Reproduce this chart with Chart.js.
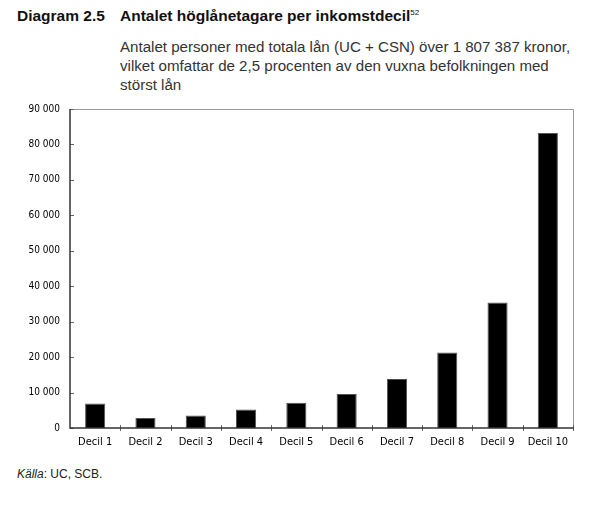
<!DOCTYPE html>
<html>
<head>
<meta charset="utf-8">
<script src="https://cdn.jsdelivr.net/npm/chart.js@4"></script>
<style>
  body { margin: 0; background: #fff; font-family: 'Liberation Sans', Arial, sans-serif; }
  #page { position: relative; width: 605px; height: 510px; }
  .title { position: absolute; left: 17px; top: 7px; font-weight: bold; font-size: 15.5px; color: #111; }
  .title span { position: absolute; left: 103px; white-space: nowrap; }
  .title sup { font-size: 8px; font-weight: normal; }
  .sub { position: absolute; left: 120px; top: 37px; width: 480px; font-size: 15.1px; line-height: 19px; color: #333; }
  .src { position: absolute; left: 17px; top: 467px; font-size: 12px; color: #222; }
  #wrap { position: absolute; left: 0; top: 93px; width: 605px; height: 357px; }
</style>
</head>
<body>
<div id="page">
  <div class="title">Diagram 2.5<span>Antalet höglånetagare per inkomstdecil<sup>52</sup></span></div>
  <div class="sub">Antalet personer med totala lån (UC + CSN) över 1 807 387 kronor,<br>vilket omfattar de 2,5 procenten av den vuxna befolkningen med<br>störst lån</div>
  <div id="wrap"><canvas id="c"></canvas></div>
  <div class="src"><i>Källa</i>: UC, SCB.</div>
</div>
<script>
// values
const categories = ['Decil 1', 'Decil 2', 'Decil 3', 'Decil 4', 'Decil 5', 'Decil 6', 'Decil 7', 'Decil 8', 'Decil 9', 'Decil 10'];
const borrowers = [6900, 2800, 3500, 5200, 7150, 9600, 13850, 21300, 35400, 83200];
const yMax = 90000;
const yStep = 10000;

const narrow = "'Liberation Sans Narrow', 'DejaVu Sans Condensed', sans-serif";

function spaced(v) {
    return String(v).replace(/\B(?=(\d{3})+(?!\d))/g, ' ');
}

// frame and tick marks like the original
const framePlugin = {
    id: 'frame',
    afterDraw(chart) {
        const { ctx, chartArea: a, scales: { x, y } } = chart;
        ctx.save();
        ctx.lineWidth = 1;
        ctx.strokeStyle = '#999';
        ctx.beginPath();
        ctx.moveTo(a.left, a.top + 0.5);
        ctx.lineTo(a.right + 0.5, a.top + 0.5);
        ctx.lineTo(a.right + 0.5, a.bottom);
        ctx.stroke();

        ctx.strokeStyle = '#666';
        y.ticks.forEach(t => {
            const py = Math.round(y.getPixelForValue(t.value)) + 0.5;
            ctx.beginPath();
            ctx.moveTo(a.left, py);
            ctx.lineTo(a.left + 4, py);
            ctx.stroke();
        });
        const step = x.getPixelForValue(1) - x.getPixelForValue(0);
        for (let i = 1; i <= categories.length; i++) {
            const px = Math.round(x.getPixelForValue(i) - step / 2) + 0.5;
            ctx.beginPath();
            ctx.moveTo(px, a.bottom - 3);
            ctx.lineTo(px, a.bottom + 3);
            ctx.stroke();
        }

        ctx.strokeStyle = '#333';
        ctx.lineWidth = 1.5;
        ctx.beginPath();
        ctx.moveTo(a.left, a.top);
        ctx.lineTo(a.left, a.bottom);
        ctx.lineTo(a.right + 1, a.bottom);
        ctx.stroke();
        ctx.restore();
    }
};

new Chart(document.getElementById('c'), {
    type: 'bar',
    data: {
        labels: categories,
        datasets: [{
            data: borrowers,
            backgroundColor: '#000',
            borderColor: '#555',
            borderWidth: { top: 1, left: 1, right: 1, bottom: 0 },
            barPercentage: 0.4,
            categoryPercentage: 1
        }]
    },
    options: {
        responsive: true,
        maintainAspectRatio: false,
        animation: false,
        layout: { padding: { top: 2, right: 32, left: 0, bottom: 0 } },
        plugins: { legend: { display: false }, tooltip: { enabled: false } },
        scales: {
            x: {
                grid: { display: false, drawTicks: false },
                border: { display: false },
                ticks: { color: '#000', padding: 8, font: { family: narrow, size: 11 } },
                afterFit: s => { s.height = 22; }
            },
            y: {
                min: 0,
                max: yMax,
                grid: { display: false, drawTicks: false },
                border: { display: false },
                ticks: {
                    stepSize: yStep,
                    color: '#000',
                    padding: 10,
                    font: { family: narrow, size: 10 },
                    callback: v => spaced(v)
                },
                afterFit: s => { s.width = 70; }
            }
        }
    },
    plugins: [framePlugin]
});
</script>
</body>
</html>
